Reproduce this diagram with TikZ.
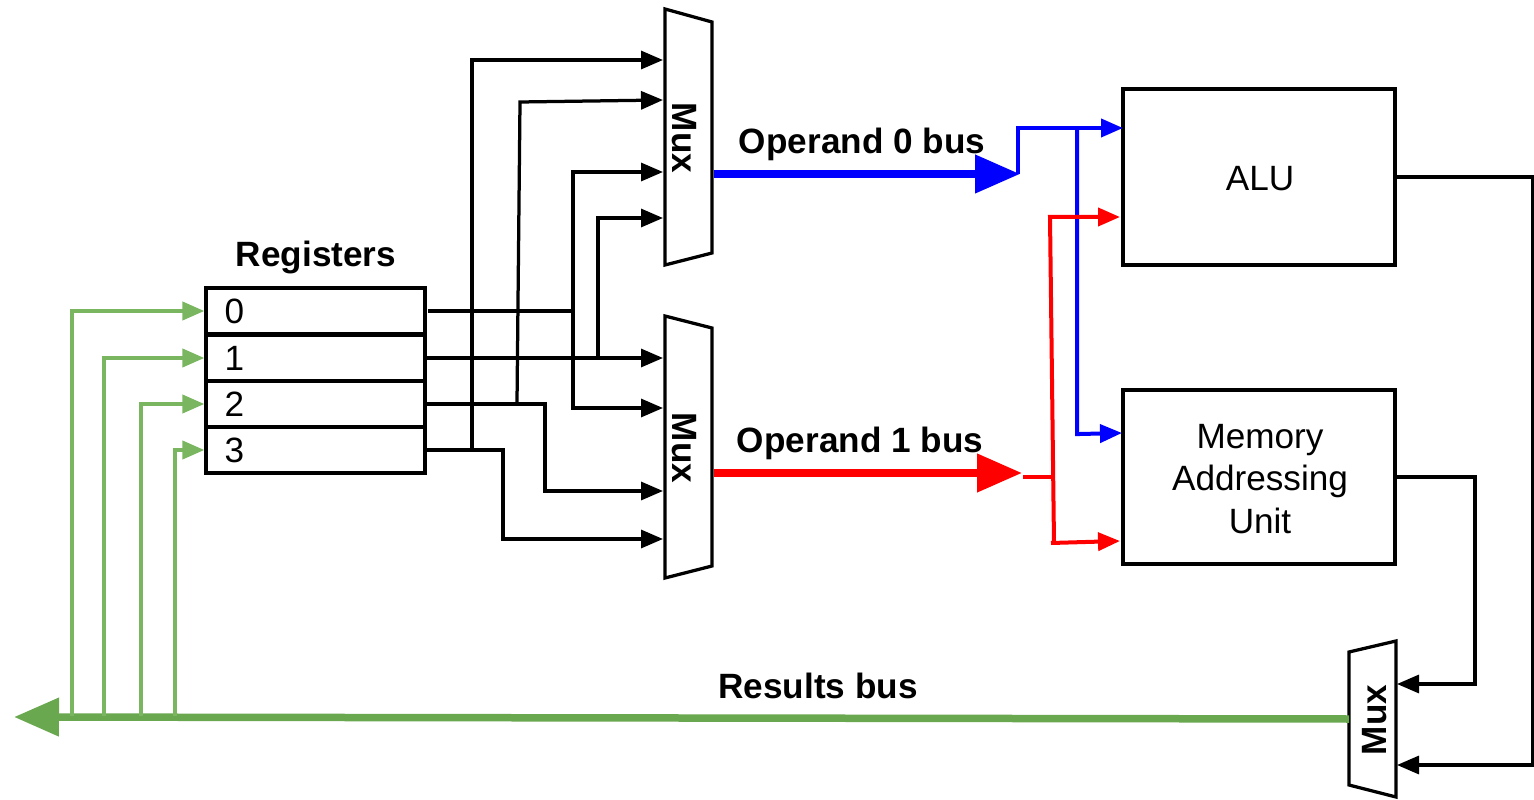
\documentclass[tikz,border=0pt]{standalone}
\usepackage{fontspec}
\setmainfont{Liberation Sans}
\usetikzlibrary{arrows.meta}
\definecolor{busgreen}{HTML}{6AA84F}
\definecolor{wiregreen}{HTML}{7AB65F}
\tikzset{
  wire/.style={line width=.065cm,line join=miter},
  colorwire/.style={line width=.08cm,line join=miter},
  smalltip/.style={-{Triangle[length=.44cm,width=.36cm]}},
  bigtip/.style={-{Triangle[length=.9cm,width=.74cm]}},
  bus/.style={line width=.15cm},
  regbox/.style={draw,line width=.065cm,minimum height=.92cm,text width=3.64cm,inner xsep=.37cm,inner ysep=0pt,align=left,font=\fontsize{20}{24}\selectfont},
  unitbox/.style={draw,line width=.065cm,minimum width=5.44cm},
  unitlabel/.style={align=center,font=\fontsize{20}{24}\selectfont},
  boldlabel/.style={font=\bfseries\fontsize{20}{24}\selectfont}
}
\begin{document}
\begin{tikzpicture}[x=1cm,y=1cm]
\useasboundingbox (0,0) rectangle (30.68,15.98);
% registers
\node[regbox] (reg0) at (6.31,9.76) {0};
\node[regbox] (reg1) at (6.31,8.82) {1};
\node[regbox] (reg2) at (6.31,7.9) {2};
\node[regbox] (reg3) at (6.31,6.98) {3};
\node[boldlabel] (reglabel) at (6.32,10.84) {Registers};
% muxes
\draw[wire] (13.3,15.8)--(14.24,15.54)--(14.24,10.92)--(13.3,10.68)--cycle;
\draw[wire] (13.3,9.66)--(14.24,9.42)--(14.24,4.66)--(13.3,4.42)--cycle;
\draw[wire] (26.98,2.94)--(27.92,3.16)--(27.92,.04)--(26.98,.28)--cycle;
\node[boldlabel,rotate=-90] (muxa) at (13.68,13.22) {Mux};
\node[boldlabel,rotate=-90] (muxb) at (13.68,7.02) {Mux};
\node[boldlabel,rotate=90] (muxc) at (27.5,1.58) {Mux};
% units
\node[unitbox,minimum height=3.52cm] (alu) at (25.18,12.44) {};
\node[unitbox,minimum height=3.48cm] (mau) at (25.18,6.44) {};
\node[unitlabel] (alulabel) at (25.2,12.4) {ALU};
\node[unitlabel] (maulabel) at (25.2,6.4) {Memory\\Addressing\\Unit};
% mux inputs
\coordinate (ina) at (13.26,14.78);
\coordinate (inb) at (13.26,13.98);
\coordinate (inc) at (13.26,12.54);
\coordinate (ind) at (13.26,11.62);
\coordinate (ine) at (13.26,8.82);
\coordinate (inf) at (13.26,7.82);
\coordinate (ing) at (13.26,6.16);
\coordinate (inh) at (13.26,5.2);
% register outputs
\draw[wire] (8.56,9.76) -- (11.46,9.76);
\draw[wire,smalltip] (11.46,9.76) |- (inc);
\draw[wire,smalltip] (11.46,9.76) |- (inf);
\draw[wire,smalltip] (reg1.east) -- (ine);
\draw[wire,smalltip] (11.96,8.82) |- (ind);
\draw[wire,smalltip] (reg2.east) -| (10.9,6.16) -- (ing);
\draw[wire,smalltip] (10.34,7.92) -- (10.4,13.94) -- (inb);
\draw[wire,smalltip] (reg3.east) -| (10.06,5.2) -- (inh);
\draw[wire,smalltip] (9.44,6.98) |- (ina);
% operand 0
\coordinate (blueend) at (20.4,12.5);
\coordinate (aluin) at (22.46,13.42);
\draw[bus,blue,bigtip] (14.27,12.5) -- (blueend);
\draw[colorwire,blue,smalltip] (20.36,12.5) |- (aluin);
\draw[colorwire,blue,smalltip] (21.54,13.42) |- (21.6,7.3) -- (22.44,7.32);
\node[boldlabel] (oplabela) at (17.24,13.1) {Operand 0 bus};
% operand 1
\coordinate (redend) at (20.44,6.52);
\draw[bus,red,bigtip] (14.27,6.52) -- (redend);
\draw[colorwire,red] (20.46,6.44) -- (21.04,6.44);
\draw[colorwire,red,smalltip] (21.08,5.12) -- (21,11.64) -- (22.4,11.64);
\draw[colorwire,red,smalltip] (21.02,5.12) -- (22.4,5.16);
\node[boldlabel] (oplabelb) at (17.2,7.12) {Operand 1 bus};
% results
\draw[wire,smalltip] (alu.east) -- (30.66,12.44) |- (27.94,.68);
\draw[wire,smalltip] (mau.east) -- (29.5,6.44) |- (27.94,2.3);
\coordinate (greenend) at (.28,1.64);
\draw[bus,busgreen,bigtip] (26.98,1.6) -- (greenend);
\draw[colorwire,wiregreen,smalltip] (1.44,1.66) |- (reg0.west);
\draw[colorwire,wiregreen,smalltip] (2.08,1.66) |- (reg1.west);
\draw[colorwire,wiregreen,smalltip] (2.82,1.66) |- (reg2.west);
\draw[colorwire,wiregreen,smalltip] (3.5,1.66) |- (reg3.west);
\node[boldlabel] (resultlabel) at (16.36,2.26) {Results bus};
\end{tikzpicture}
\end{document}
